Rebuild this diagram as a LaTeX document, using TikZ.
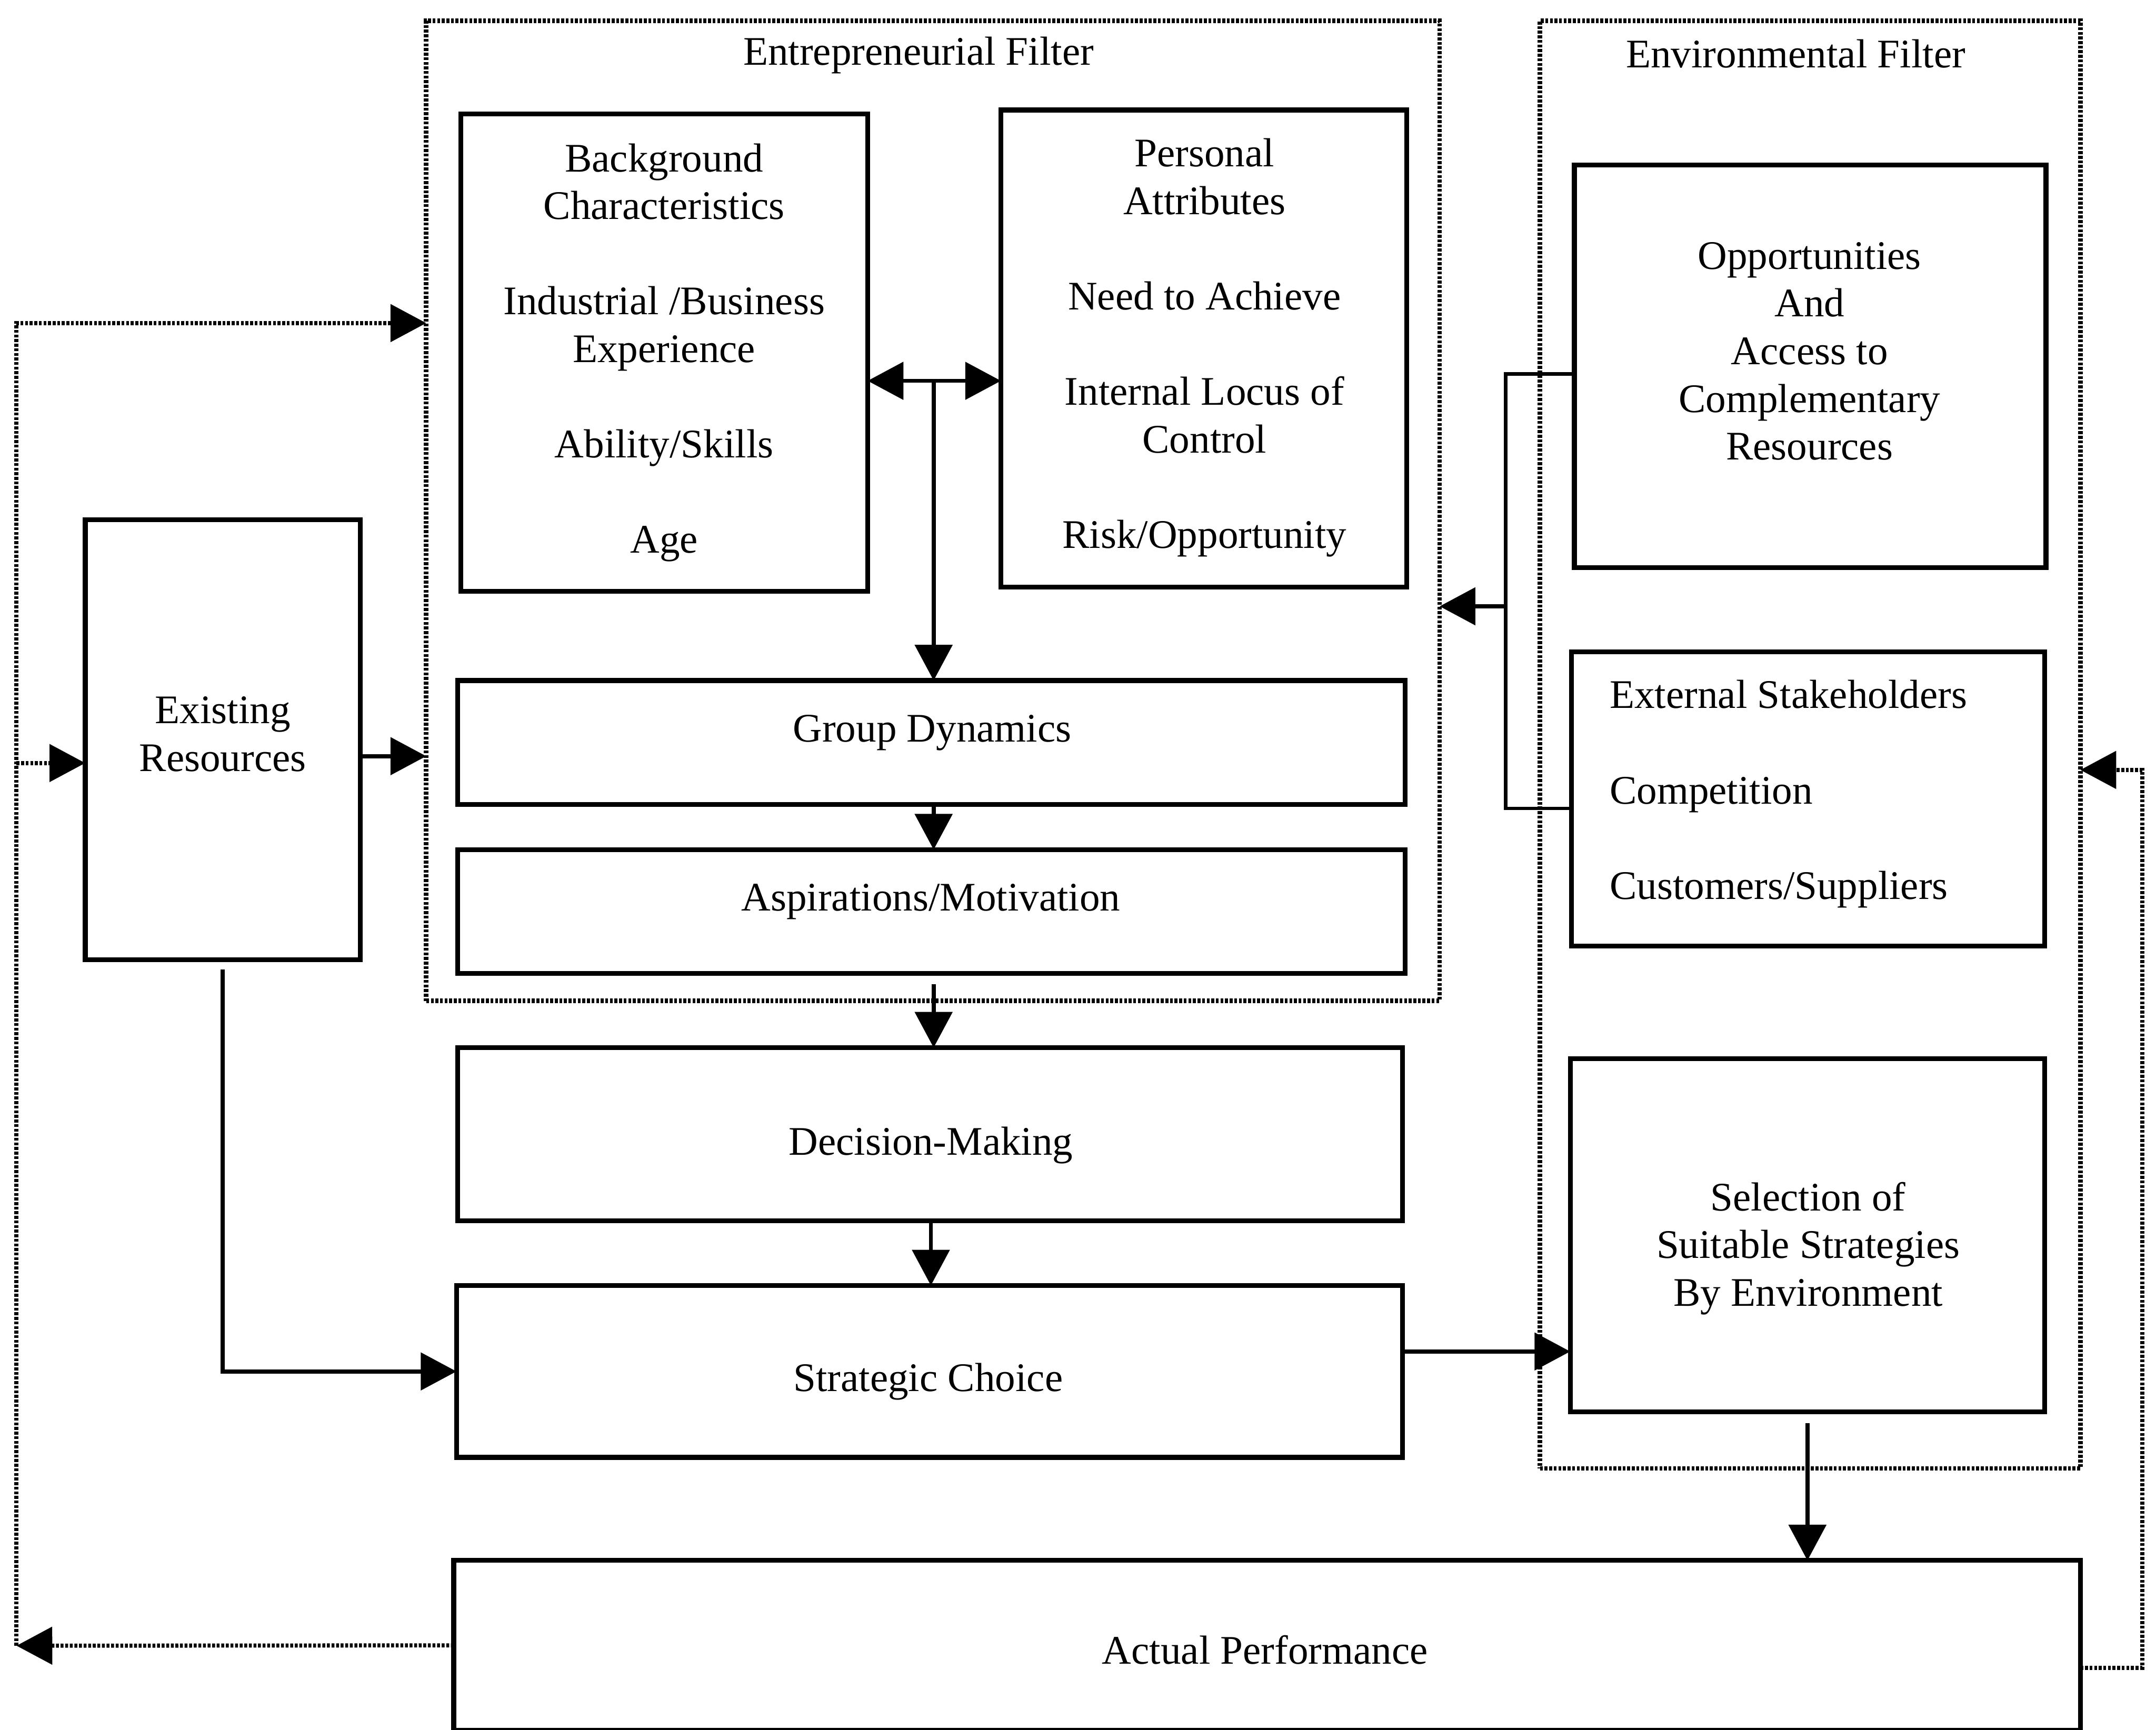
\documentclass[tikz,border=0pt]{standalone}
\usepackage{fontspec}
\setmainfont{Liberation Serif}
\usetikzlibrary{arrows.meta}
\begin{document}
\begin{tikzpicture}[x=0.1mm,y=-0.1mm,
  box/.style={draw, rectangle, line width=1pt, inner sep=0pt, outer sep=0pt},
  filterbox/.style={draw, rectangle, line width=0.95pt, dash pattern=on 0.6pt off 0.35pt, inner sep=0pt, outer sep=0pt},
  txt/.style={align=center, inner sep=0pt, font=\fontsize{8.4}{9.87}\selectfont},
  conn/.style={line width=0.85pt},
  thinconn/.style={line width=0.7pt},
  fb/.style={line width=0.85pt, dash pattern=on 0.6pt off 0.35pt},
  tip/.style={-{Triangle[length=2.6mm,width=2.7mm]}},
  dbltip/.style={{Triangle[length=2.6mm,width=2.7mm]}-{Triangle[length=2.6mm,width=2.7mm]}}
]
\clip (0,0) rectangle (1568,1258);
\def\gap{9.87pt}

% filter frames and their titles
\node[filterbox, minimum width=73.7mm, minimum height=71.3mm] (ef) at (678.5,371.5) {};
\node[filterbox, minimum width=39.3mm, minimum height=105.3mm] (env) at (1316.5,541.5) {};
\node[txt] (eft) at (668,40) {Entrepreneurial Filter};
\node[txt] (envt) at (1306,39) {Environmental Filter};

% boxes of the entrepreneurial filter
\node[box, minimum width=29.6mm, minimum height=34.7mm] (bg) at (483,256.5) {};
\node[txt] (bgt) at (483,256.5) {Background\\Characteristics\\[\gap]Industrial /Business\\Experience\\[\gap]Ability/Skills\\[\gap]Age};
\node[box, minimum width=29.5mm, minimum height=34.7mm] (pa) at (875.5,253.5) {};
\node[txt] (pat) at (876,253) {Personal\\Attributes\\[\gap]Need to Achieve\\[\gap]Internal Locus of\\Control\\[\gap]Risk/Opportunity};
\node[box, minimum width=68.9mm, minimum height=9mm] (gd) at (677.5,540) {};
\node[txt] (gdt) at (678,533) {Group Dynamics};
\node[box, minimum width=68.9mm, minimum height=9mm] (asp) at (677.5,663) {};
\node[txt] (aspt) at (677,656) {Aspirations/Motivation};

% decision chain
\node[box, minimum width=68.7mm, minimum height=12.6mm] (dm) at (676.5,825) {};
\node[txt] (dmt) at (677,833) {Decision-Making};
\node[box, minimum width=68.8mm, minimum height=12.5mm] (sc) at (676,997.5) {};
\node[txt] (sct) at (675,1005) {Strategic Choice};

% existing resources
\node[box, minimum width=20mm, minimum height=32mm] (er) at (162,538) {};
\node[txt] (ert) at (162,534) {Existing\\Resources};

% boxes of the environmental filter
\node[box, minimum width=34.3mm, minimum height=29.3mm] (opp) at (1316.5,266.5) {};
\node[txt] (oppt) at (1316,255.5) {Opportunities\\And\\Access to\\Complementary\\Resources};
\node[box, minimum width=34.4mm, minimum height=21.4mm] (ext) at (1315,581) {};
\node[txt, align=left, anchor=west] (extt) at (1170,577.5) {External Stakeholders\\[\gap]Competition\\[\gap]Customers/Suppliers};
\node[box, minimum width=34.5mm, minimum height=25.7mm] (sel) at (1314.5,898.5) {};
\node[txt] (selt) at (1315,908) {Selection of\\Suitable Strategies\\By Environment};

% actual performance
\node[box, minimum width=118.3mm, minimum height=12.35mm] (ap) at (921.5,1196.75) {};
\node[txt] (apt) at (920,1200) {Actual Performance};

% helper coordinates
\coordinate (split) at (679,277);
\coordinate (c677) at (677,0);
\coordinate (y550) at (0,550);
\coordinate (y555) at (0,555);
\coordinate (y983) at (0,983);
\coordinate (y272) at (0,272);
\coordinate (y588) at (0,588);
\coordinate (y560) at (0,560);
\coordinate (bx) at (1095,441);
\coordinate (lb) at (12,1197);
\coordinate (lt) at (12,235);
\coordinate (rb) at (1558,1213);

% connectors inside the entrepreneurial filter
\draw[conn, dbltip] (bg.east |- split) -- (pa.west |- split);
\draw[conn, tip] (split) -- (split |- gd.north);
\draw[conn, tip] (gd.south -| split) -- (asp.north -| split);
\draw[conn, tip, shorten <=0.8mm] (asp.south -| split) -- (dm.north -| split);
\draw[conn, tip] (dm.south -| c677) -- (sc.north -| c677);

% existing resources links
\draw[conn, tip] (er.east |- y550) -- (ef.west |- y550);
\draw[conn, tip, shorten <=0.7mm] (er.south) -- (er.south |- sc.west) -- (sc.west);

% environmental links
\draw[thinconn] (opp.west |- y272) -- (bx |- y272) -- (bx |- y588) -- (ext.west |- y588);
\draw[conn, tip] (bx) -- (ef.east |- bx);
\draw[conn, tip] (sc.east |- y983) -- (sel.west |- y983);
\draw[conn, tip, shorten <=0.8mm] (sel.south) -- (sel.south |- ap.north);

% feedback loops
\draw[fb, tip] (ap.west) -- (lb);
\draw[fb, tip] (lb) -- (lt) -- (lt -| ef.west);
\draw[fb, tip] (lt |- y555) -- (er.west |- y555);
\draw[fb, tip] (ap.east |- rb) -- (rb) -- (rb |- y560) -- (env.east |- y560);
\end{tikzpicture}
\end{document}
